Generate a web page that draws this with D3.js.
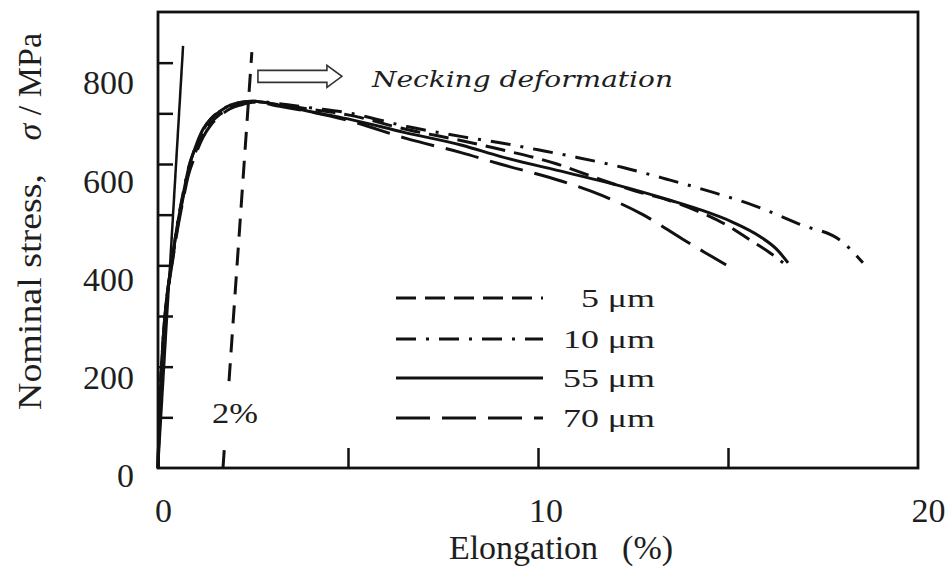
<!DOCTYPE html>
<html>
<head>
<meta charset="utf-8">
<script src="https://cdn.jsdelivr.net/npm/d3@7"></script>
<style>
  body { margin: 0; background: #fff; }
  svg { display: block; }
  text { font-family: "Liberation Serif", "Times New Roman", serif; fill: #1e1e1e; }
</style>
</head>
<body>
<svg id="chart" width="951" height="569"></svg>
<script>
// Nominal stress–elongation curves for four grain sizes: [elongation %, stress MPa]
const curve5um = [[0,0],[0.02,60],[0.05,128],[0.1,208],[0.18,296],[0.28,362],[0.39,416],[0.5,470],[0.65,530],[0.8,583],[0.97,620],[1.18,657],[1.4,682],[1.63,698],[1.9,711],[2.2,719],[2.5,723],[3.2,717],[4,708],[5,697],[6.55,668],[8,646],[9,629],[10.5,600],[11.4,576],[12.5,548],[13.5,527],[14.26,505],[15,478],[15.58,450],[16.1,425],[16.45,405]];
const curve10um = [[0,0],[0.02,60],[0.05,130],[0.1,210],[0.18,300],[0.28,365],[0.39,420],[0.5,478],[0.65,538],[0.8,592],[0.97,630],[1.18,666],[1.4,690],[1.63,704],[1.9,716],[2.2,722],[2.5,724],[3.2,719],[4,711],[5,701],[6.55,674],[8,654],[9,642],[10,628],[11.03,613],[12.24,593],[13.39,570],[14.61,544],[15.76,516],[16.89,481],[18.03,445],[18.55,405]];
const curve55um = [[0,0],[0.02,60],[0.05,130],[0.1,210],[0.18,300],[0.28,365],[0.39,420],[0.5,475],[0.65,535],[0.8,590],[0.97,630],[1.18,668],[1.4,690],[1.63,704],[1.9,716],[2.2,722],[2.5,724],[3.2,716],[3.9,705],[5,689],[6.5,662],[8,637],[9,615],[10.76,583],[12.5,550],[13.5,528],[14.26,510],[15.13,485],[15.84,457],[16.29,431],[16.58,405]];
const curve70um = [[0,0],[0.02,58],[0.05,125],[0.1,205],[0.18,292],[0.28,358],[0.39,412],[0.5,465],[0.65,525],[0.8,578],[0.97,615],[1.18,652],[1.4,678],[1.63,695],[1.9,709],[2.2,717],[2.5,722],[3.2,714],[4,703],[5,686],[6.55,650],[8,622],[9,600],[10.63,566],[11.68,538],[12.76,500],[13.82,451],[14.4,425],[14.95,401]];

const seriesNames = ["5 μm", "10 μm", "55 μm", "70 μm"];
const seriesData = [curve5um, curve10um, curve55um, curve70um];

// Elastic line and the parallel 2 % offset line
const elasticLine = [[0,0],[0.66,833]];
const offsetLine = [[1.71,0],[2.47,821]];

// Axis ticks and labels
const xTickValues = [5, 10, 15];
const xLabelValues = [0, 10, 20];
const yTickValues = [100, 200, 300, 400, 500, 600, 700, 800];
const yLabelValues = [0, 200, 400, 600, 800];

const xTitle = "Elongation";
const xUnit = "(%)";
const yTitle = "Nominal stress,";
const ySymbol = "σ";
const yUnit = " / MPa";
const neckingText = "Necking deformation";
const offsetText = "2%";

// Line styles per series
const dashStyles = ["20,9", "20,10,3,10", null, "34,12"];

const svg = d3.select("#chart");

const x = d3.scaleLinear().domain([0, 20]).range([158, 918]);
const y = d3.scaleLinear().domain([0, 900]).range([468, 12]);
// tick-label positions are spread slightly wider than the tick marks
const xLab = d3.scaleLinear().domain([0, 20]).range([163, 928]);
const yLab = d3.scaleLinear().domain([0, 800]).range([476, 83]);

const line = d3.line().x(d => x(d[0])).y(d => y(d[1])).curve(d3.curveMonotoneX);
const straight = d3.line().x(d => x(d[0])).y(d => y(d[1]));

// tick marks pointing inward
const xAxis = svg.append("g").attr("transform", `translate(0,${y(0)})`)
  .call(d3.axisBottom(x).tickValues(xTickValues).tickSizeInner(-20).tickSizeOuter(0).tickFormat(""));
xAxis.select(".domain").remove();
xAxis.selectAll("line").attr("stroke", "#111").attr("stroke-width", 2.5);

const yAxis = svg.append("g").attr("transform", `translate(${x(0)},0)`)
  .call(d3.axisLeft(y).tickValues(yTickValues).tickSizeInner(-15).tickSizeOuter(0).tickFormat(""));
yAxis.select(".domain").remove();
yAxis.selectAll("line").attr("stroke", "#111").attr("stroke-width", 2.5);

// tick labels
const xLabels = svg.append("g").attr("transform", `translate(0,${y(0)})`)
  .call(d3.axisBottom(xLab).tickValues(xLabelValues).tickSize(0).tickPadding(30));
xLabels.select(".domain").remove();
xLabels.selectAll("text").attr("font-size", 34).attr("font-family", null).attr("fill", "#1e1e1e");

const yLabels = svg.append("g").attr("transform", `translate(${x(0)},0)`)
  .call(d3.axisLeft(yLab).tickValues(yLabelValues).tickSize(0).tickPadding(24));
yLabels.select(".domain").remove();
yLabels.selectAll("text").attr("font-size", 34).attr("font-family", null).attr("fill", "#1e1e1e");

// elastic reference lines
svg.append("path").attr("d", straight(elasticLine))
  .attr("fill", "none").attr("stroke", "#111").attr("stroke-width", 2.5);
svg.append("path").attr("d", straight(offsetLine))
  .attr("fill", "none").attr("stroke", "#111").attr("stroke-width", 3)
  .attr("stroke-dasharray", "18,11");

// 2% label with a white backing over the offset line
const offX = 212, offY = 423;
svg.append("rect").attr("x", offX - 2).attr("y", 384).attr("width", 50).attr("height", 56).attr("fill", "#fff");
svg.append("text").attr("transform", `translate(${offX},${offY}) scale(1.15,1)`)
  .attr("font-size", 30).text(offsetText);

// stress–strain curves
seriesData.forEach((d, i) => {
  svg.append("path").attr("d", line(d))
    .attr("fill", "none").attr("stroke", "#111").attr("stroke-width", 3)
    .attr("stroke-linejoin", "round")
    .attr("stroke-dasharray", dashStyles[i]);
});

// frame
svg.append("rect").attr("x", x(0)).attr("y", y(900)).attr("width", x(20) - x(0)).attr("height", y(0) - y(900))
  .attr("fill", "none").attr("stroke", "#111").attr("stroke-width", 2.8);

// hollow arrow towards the necking label
const ax0 = x(2.63), ax1 = x(4.84), ayc = y(773);
const shaftH = 6, headH = 11, headL = 15;
const arrowPts = [
  [ax0, ayc - shaftH], [ax1 - headL, ayc - shaftH], [ax1 - headL, ayc - headH], [ax1, ayc],
  [ax1 - headL, ayc + headH], [ax1 - headL, ayc + shaftH], [ax0, ayc + shaftH]
];
svg.append("polygon").attr("points", arrowPts.map(p => p.join(",")).join(" "))
  .attr("fill", "#fff").attr("stroke", "#333").attr("stroke-width", 1.6);

svg.append("text").attr("x", x(5.63)).attr("y", y(751))
  .attr("font-family", "'DejaVu Serif', serif").attr("font-size", 23).attr("font-style", "italic")
  .attr("textLength", 301).attr("lengthAdjust", "spacingAndGlyphs")
  .style("font-family", "'DejaVu Serif', serif")
  .attr("fill", "#2a2a2a").text(neckingText);

// legend
const legendRows = [298, 339, 378, 418];
seriesNames.forEach((name, i) => {
  const ry = legendRows[i];
  svg.append("line").attr("x1", 396).attr("x2", 543).attr("y1", ry).attr("y2", ry)
    .attr("stroke", "#111").attr("stroke-width", 3).attr("stroke-dasharray", dashStyles[i]);
  svg.append("text").attr("transform", `translate(655,${ry + 9}) scale(1.38,1)`)
    .attr("text-anchor", "end").attr("font-size", 26).text(name);
});

// axis titles
svg.append("text").attr("x", 561).attr("y", 559).attr("text-anchor", "middle").attr("font-size", 34)
  .call(t => {
    t.append("tspan").text(xTitle);
    t.append("tspan").attr("dx", 24).text(xUnit);
  });

const yTitleG = svg.append("g").attr("transform", "translate(41,0) rotate(-90)");
yTitleG.append("text").attr("x", -410).attr("y", 0).attr("font-size", 34)
  .attr("textLength", 236).attr("lengthAdjust", "spacingAndGlyphs").text(yTitle);
yTitleG.append("text").attr("x", -33).attr("y", 0).attr("text-anchor", "end").attr("font-size", 34)
  .call(t => {
    t.append("tspan").attr("font-style", "italic").text(ySymbol);
    t.append("tspan").text(yUnit);
  });
</script>
</body>
</html>
